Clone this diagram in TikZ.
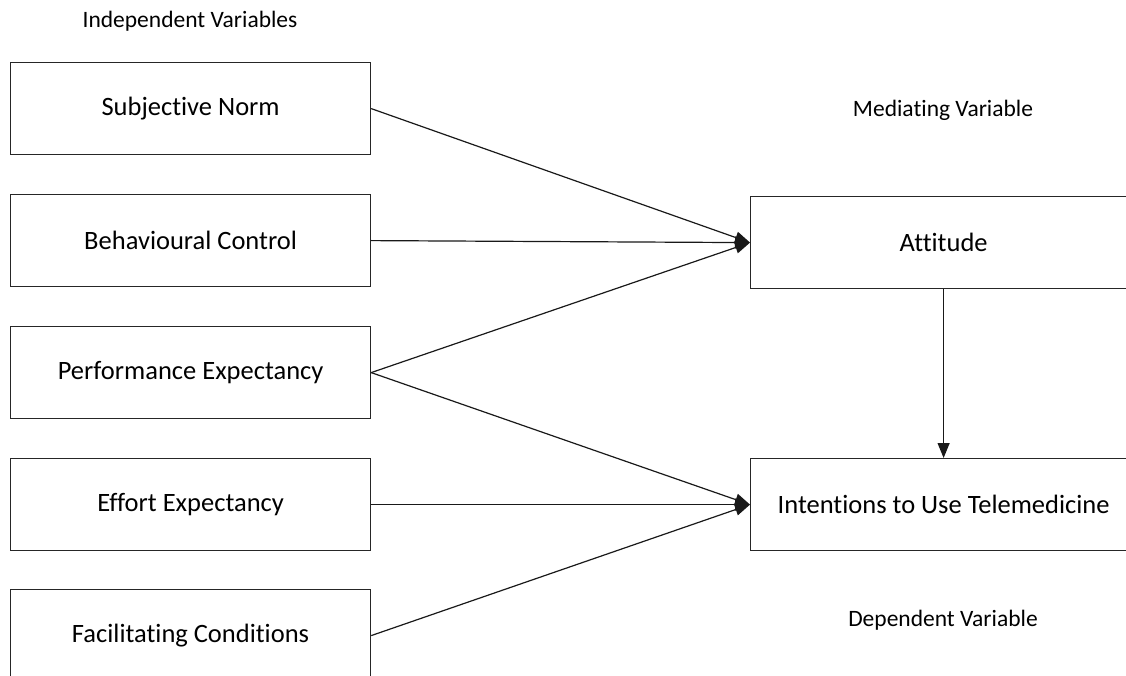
\documentclass[tikz,border=0pt]{standalone}
\usepackage{fontspec}
\setmainfont{Carlito}[RawFeature=-liga]
\usetikzlibrary{arrows.meta}
\begin{document}
\begin{tikzpicture}[x=1pt,y=-1pt,
  box/.style={draw=black!85,line width=1.2pt,minimum width=360pt,minimum height=92pt,inner sep=0pt,font=\fontsize{26.5}{30}\selectfont,anchor=north west},
  rbox/.style={box,minimum width=386pt},
  lbl/.style={font=\fontsize{23.5}{27}\selectfont},
  conn/.style={line width=1.2pt,draw=black!90,-{Triangle[length=15pt,width=12pt]}}]
\useasboundingbox (0,0) rectangle (1126,676);
\clip (0,0) rectangle (1126,676);
\node[lbl] (iv) at (190,21) {Independent Variables};
\node[lbl] (mv) at (943,110) {Mediating Variable};
\node[lbl] (dv) at (943,620) {Dependent Variable};
\node[box] (sn) at (10,62) {Subjective Norm};
\node[box] (bc) at (10,194) {Behavioural Control};
\node[box] (pe) at (10,326) {Performance Expectancy};
\node[box] (ee) at (10,458) {Effort Expectancy};
\node[box] (fc) at (10,589) {Facilitating Conditions};
\node[rbox] (at) at (750,196) {Attitude};
\node[rbox] (it) at (750,458) {Intentions to Use Telemedicine};
\draw[conn] (sn.east) -- (at.west);
\draw[conn] (bc.east) -- (at.west);
\draw[conn] (pe.east) -- (at.west);
\draw[conn] (pe.east) -- (it.west);
\draw[conn] (ee.east) -- (it.west);
\draw[conn] (fc.east) -- (it.west);
\draw[conn] (at.south) -- (it.north);
\end{tikzpicture}
\end{document}
